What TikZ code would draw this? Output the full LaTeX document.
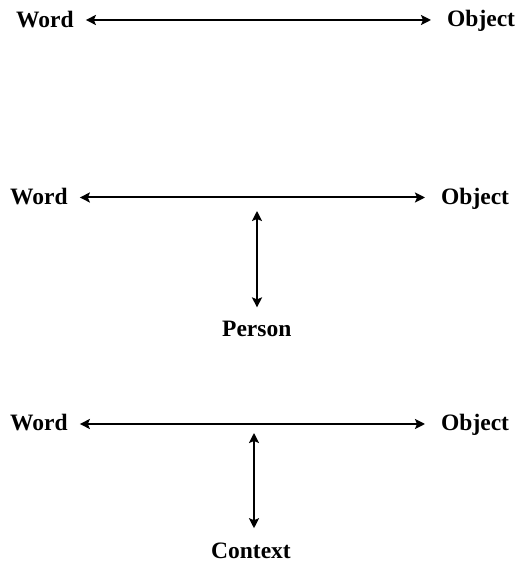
\documentclass[tikz,border=0pt]{standalone}
\usepackage{fontspec}
\setmainfont{Liberation Serif}
\usetikzlibrary{arrows.meta}
\begin{document}
\begin{tikzpicture}[x=1pt,y=1pt,
  lbl/.style={inner sep=0pt, anchor=base west, font=\fontsize{23.5}{28}\selectfont\bfseries},
  biarrow/.style={line width=2pt, {Stealth[length=10pt,width=10pt,inset=2pt]}-{Stealth[length=10pt,width=10pt,inset=2pt]}}]
\useasboundingbox (0,0) rectangle (518,562);

% Row 1: word and object
\node[lbl] (w1) at (16,534) {Word};
\node[lbl] (o1) at (447,535) {Object};
\draw[biarrow] ([xshift=12pt,yshift=8pt]w1.base east) -- ([xshift=-16pt,yshift=7pt]o1.base west);

% Row 2: word, object and person
\node[lbl] (w2) at (10,357) {Word};
\node[lbl] (o2) at (441,357) {Object};
\node[lbl] (p2) at (222,225) {Person};
\draw[biarrow] ([xshift=12pt,yshift=7.5pt]w2.base east) -- ([xshift=-16pt,yshift=7.5pt]o2.base west);
\coordinate (t2) at (257,351);
\draw[biarrow, shorten >=14pt] (t2) -- (p2.north -| t2);

% Row 3: word, object and context
\node[lbl] (w3) at (10,131) {Word};
\node[lbl] (o3) at (441,131) {Object};
\node[lbl] (c3) at (211,4) {Context};
\draw[biarrow] ([xshift=12pt,yshift=7pt]w3.base east) -- ([xshift=-16pt,yshift=7pt]o3.base west);
\coordinate (t3) at (254,129);
\draw[biarrow, shorten >=14pt] (t3) -- (c3.north -| t3);
\end{tikzpicture}
\end{document}
